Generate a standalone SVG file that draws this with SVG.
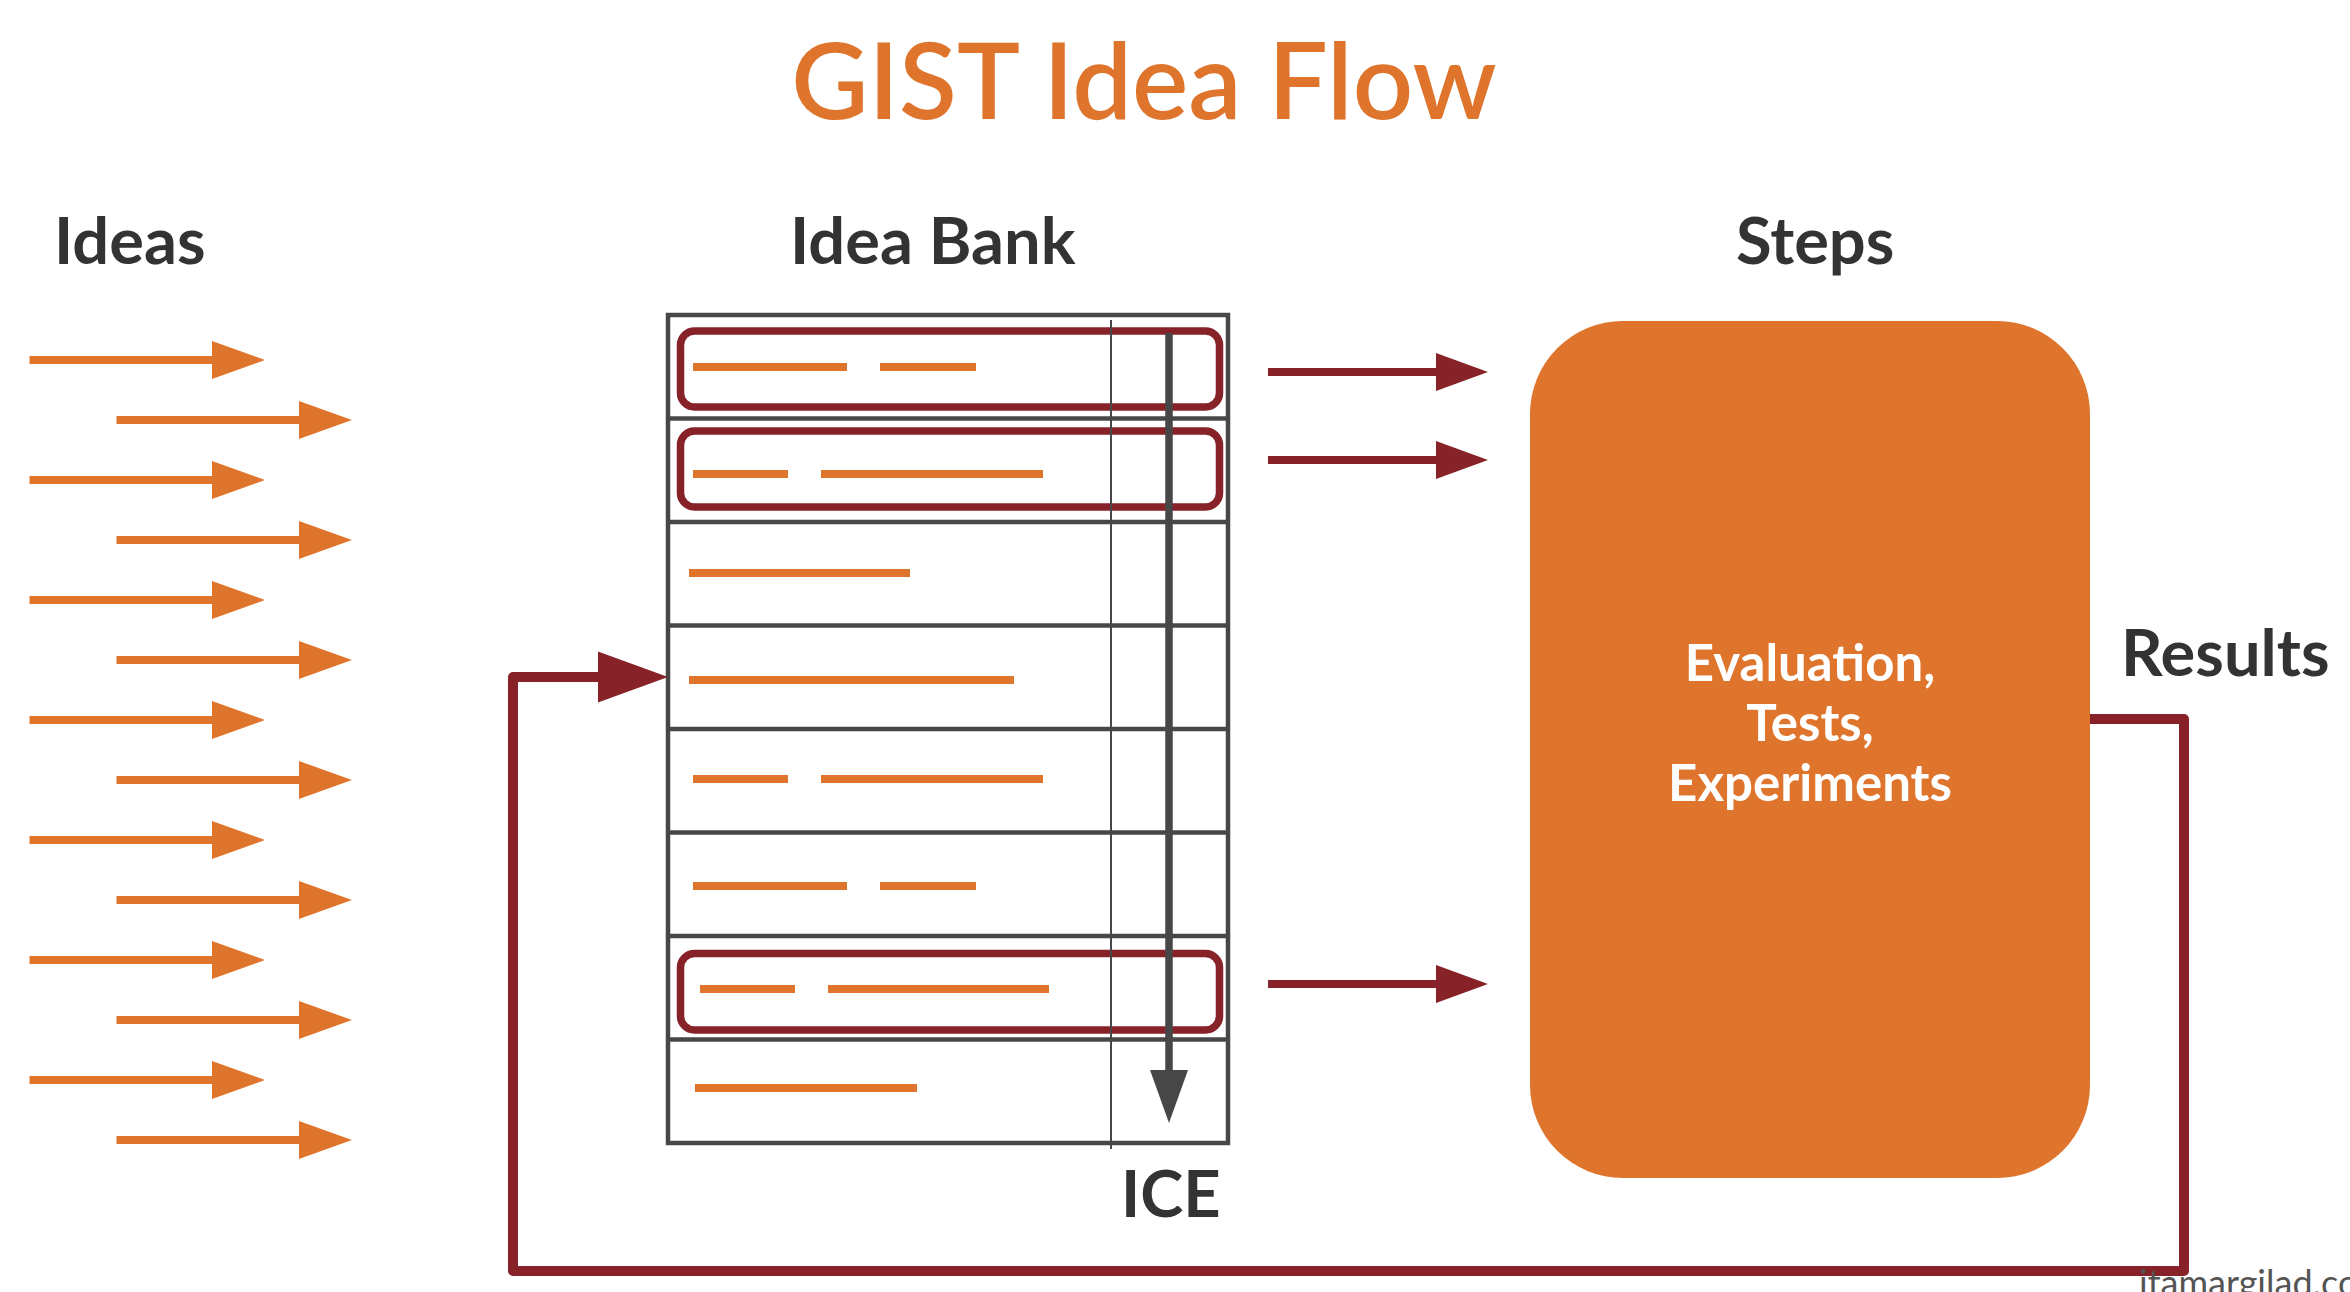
<svg xmlns="http://www.w3.org/2000/svg" width="2350" height="1292" viewBox="0 0 2350 1292">
<style>
.title{font-family:Lato,"Liberation Sans",sans-serif;font-size:106px;fill:#DF742C;font-weight:600}
.lbl{font-family:Lato,"Liberation Sans",sans-serif;font-size:65px;font-weight:bold;fill:#333333}
.box-txt{font-family:Lato,"Liberation Sans",sans-serif;font-size:51px;font-weight:bold;fill:#ffffff}
.wm{font-family:Lato,"Liberation Sans",sans-serif;font-size:36px;fill:#555555}
.oline{stroke:#DF742C;stroke-width:8;fill:none}
.ohead{fill:#DF742C}
.rline{stroke:#862228;stroke-width:8;fill:none}
.rhead{fill:#862228}
.grid{stroke:#474747;stroke-width:4.5;fill:none}
.dash{stroke:#DF742C;stroke-width:8}
.hl{stroke:#862228;stroke-width:7.5;fill:none}
</style>
<rect width="2350" height="1292" fill="#ffffff"/>
<text class="title" x="1144" y="119" text-anchor="middle">GIST Idea Flow</text>

<g id="ideas">
<text class="lbl" x="54" y="264">Ideas</text>
<g id="idea-arrows">
<line class="oline" x1="29.5" y1="360" x2="214" y2="360"/><polygon class="ohead" points="212,341 265,360 212,379"/>
<line class="oline" x1="116.5" y1="420" x2="301" y2="420"/><polygon class="ohead" points="299,401 352,420 299,439"/>
<line class="oline" x1="29.5" y1="480" x2="214" y2="480"/><polygon class="ohead" points="212,461 265,480 212,499"/>
<line class="oline" x1="116.5" y1="540" x2="301" y2="540"/><polygon class="ohead" points="299,521 352,540 299,559"/>
<line class="oline" x1="29.5" y1="600" x2="214" y2="600"/><polygon class="ohead" points="212,581 265,600 212,619"/>
<line class="oline" x1="116.5" y1="660" x2="301" y2="660"/><polygon class="ohead" points="299,641 352,660 299,679"/>
<line class="oline" x1="29.5" y1="720" x2="214" y2="720"/><polygon class="ohead" points="212,701 265,720 212,739"/>
<line class="oline" x1="116.5" y1="780" x2="301" y2="780"/><polygon class="ohead" points="299,761 352,780 299,799"/>
<line class="oline" x1="29.5" y1="840" x2="214" y2="840"/><polygon class="ohead" points="212,821 265,840 212,859"/>
<line class="oline" x1="116.5" y1="900" x2="301" y2="900"/><polygon class="ohead" points="299,881 352,900 299,919"/>
<line class="oline" x1="29.5" y1="960" x2="214" y2="960"/><polygon class="ohead" points="212,941 265,960 212,979"/>
<line class="oline" x1="116.5" y1="1020" x2="301" y2="1020"/><polygon class="ohead" points="299,1001 352,1020 299,1039"/>
<line class="oline" x1="29.5" y1="1080" x2="214" y2="1080"/><polygon class="ohead" points="212,1061 265,1080 212,1099"/>
<line class="oline" x1="116.5" y1="1140" x2="301" y2="1140"/><polygon class="ohead" points="299,1121 352,1140 299,1159"/>
</g>
</g>

<g id="idea-bank">
<text class="lbl" x="790" y="264">Idea Bank</text>
<g id="bank-dashes">
<line class="dash" x1="693" y1="367" x2="847" y2="367"/><line class="dash" x1="880" y1="367" x2="976" y2="367"/>
<line class="dash" x1="693" y1="474" x2="788" y2="474"/><line class="dash" x1="821" y1="474" x2="1043" y2="474"/>
<line class="dash" x1="689" y1="573" x2="910" y2="573"/>
<line class="dash" x1="689" y1="680" x2="1014" y2="680"/>
<line class="dash" x1="693" y1="779" x2="788" y2="779"/><line class="dash" x1="821" y1="779" x2="1043" y2="779"/>
<line class="dash" x1="693" y1="886" x2="847" y2="886"/><line class="dash" x1="880" y1="886" x2="976" y2="886"/>
<line class="dash" x1="700" y1="989" x2="795" y2="989"/><line class="dash" x1="828" y1="989" x2="1049" y2="989"/>
<line class="dash" x1="695" y1="1088" x2="917" y2="1088"/>
</g>
<g id="selected-ideas">
<rect class="hl" x="680.5" y="331" width="539" height="76" rx="14"/>
<rect class="hl" x="680.5" y="431" width="539" height="76" rx="14"/>
<rect class="hl" x="680.5" y="953.5" width="539" height="76.5" rx="14"/>
</g>
<g id="bank-grid">
<rect class="grid" x="668" y="315" width="560" height="828"/>
<line class="grid" x1="668" y1="418.5" x2="1228" y2="418.5"/>
<line class="grid" x1="668" y1="522" x2="1228" y2="522"/>
<line class="grid" x1="668" y1="625.5" x2="1228" y2="625.5"/>
<line class="grid" x1="668" y1="729" x2="1228" y2="729"/>
<line class="grid" x1="668" y1="832.5" x2="1228" y2="832.5"/>
<line class="grid" x1="668" y1="936" x2="1228" y2="936"/>
<line class="grid" x1="668" y1="1039.5" x2="1228" y2="1039.5"/>
<line x1="1111" y1="320" x2="1111" y2="1149" stroke="#474747" stroke-width="2"/>
</g>
<g id="ice-arrow">
<line x1="1169" y1="333" x2="1169" y2="1072" stroke="#474747" stroke-width="7.5"/>
<polygon points="1150,1070 1188,1070 1169,1123" fill="#474747"/>
</g>
<text class="lbl" x="1121" y="1217">ICE</text>
</g>

<g id="steps">
<text class="lbl" x="1736" y="264">Steps</text>
<rect x="1530" y="321" width="560" height="857" rx="93" fill="#DF742C"/>
<text class="box-txt" x="1810" y="681" text-anchor="middle">Evaluation,</text>
<text class="box-txt" x="1810" y="741" text-anchor="middle">Tests,</text>
<text class="box-txt" x="1810" y="801" text-anchor="middle">Experiments</text>
</g>

<g id="results">
<text class="lbl" x="2121" y="676">Results</text>
</g>

<g id="connectors">
<line class="rline" x1="1268" y1="372" x2="1438" y2="372"/><polygon class="rhead" points="1436,353 1488,372 1436,391"/>
<line class="rline" x1="1268" y1="460" x2="1438" y2="460"/><polygon class="rhead" points="1436,441 1488,460 1436,479"/>
<line class="rline" x1="1268" y1="984" x2="1438" y2="984"/><polygon class="rhead" points="1436,965 1488,984 1436,1003"/>
<polyline points="2090,719 2184,719 2184,1271 513,1271 513,677 600,677" fill="none" stroke="#862228" stroke-width="10" stroke-linejoin="round"/>
<polygon class="rhead" points="598,651.5 668,677 598,702.5"/>
</g>

<text class="wm" x="2139" y="1296">itamargilad.com</text>
</svg>
